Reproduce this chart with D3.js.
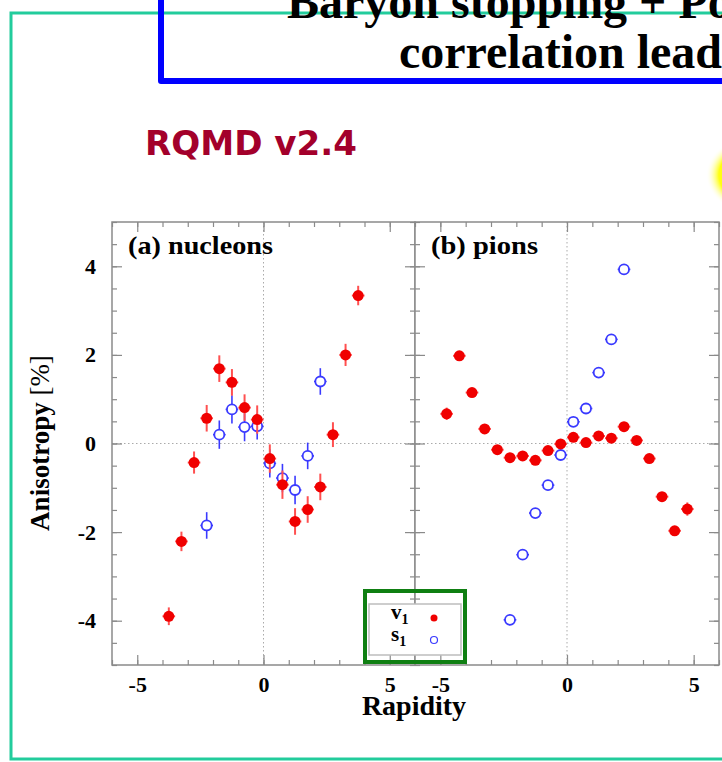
<!DOCTYPE html>
<html>
<head>
<meta charset="utf-8">
<script src="https://cdn.jsdelivr.net/npm/d3@7"></script>
<style>
	body { margin: 0; background: #fff; }
	svg { display: block; }
</style>
</head>
<body>
<script>
// rapidity bins and anisotropy values (percent)
const nucV1X = [-3.75, -3.25, -2.75, -2.25, -1.75, -1.25, -0.75, -0.25, 0.25, 0.75, 1.25, 1.75, 2.25, 2.75, 3.25, 3.75];
const nucV1 = [-3.9, -2.21, -0.43, 0.57, 1.69, 1.38, 0.81, 0.54, -0.34, -0.93, -1.76, -1.49, -0.98, 0.2, 2.0, 3.34];
const nucV1Err = [0.2, 0.22, 0.25, 0.3, 0.3, 0.3, 0.3, 0.32, 0.32, 0.32, 0.3, 0.3, 0.3, 0.28, 0.25, 0.22];

const nucS1X = [-2.25, -1.75, -1.25, -0.75, -0.25, 0.25, 0.75, 1.25, 1.75, 2.25];
const nucS1 = [-1.85, 0.2, 0.77, 0.37, 0.39, -0.45, -0.78, -1.05, -0.28, 1.4];
const nucS1Err = [0.3, 0.32, 0.32, 0.32, 0.3, 0.32, 0.32, 0.32, 0.3, 0.3];

const pionV1X = [-4.75, -4.25, -3.75, -3.25, -2.75, -2.25, -1.75, -1.25, -0.75, -0.25, 0.25, 0.75, 1.25, 1.75, 2.25, 2.75, 3.25, 3.75, 4.25, 4.75];
const pionV1 = [0.67, 1.98, 1.15, 0.33, -0.14, -0.32, -0.28, -0.38, -0.16, -0.01, 0.14, 0.02, 0.17, 0.12, 0.38, 0.07, -0.34, -1.2, -1.97, -1.48];
const pionV1Err = [0.14, 0.1, 0.08, 0.07, 0.06, 0.06, 0.06, 0.06, 0.06, 0.06, 0.06, 0.06, 0.06, 0.06, 0.06, 0.06, 0.07, 0.08, 0.1, 0.15];

const pionS1X = [-2.25, -1.75, -1.25, -0.75, -0.25, 0.25, 0.75, 1.25, 1.75, 2.25];
const pionS1 = [-3.98, -2.51, -1.57, -0.94, -0.26, 0.49, 0.79, 1.6, 2.35, 3.93];
const pionS1Err = [0.05, 0.05, 0.05, 0.05, 0.05, 0.05, 0.05, 0.05, 0.05, 0.05];

const xTickLabels = [-5, 0, 5];
const yTickLabels = [-4, -2, 0, 2, 4];
const panelTitles = ["(a) nucleons", "(b) pions"];

const w = 722;
const h = 762;
const serif = "'Liberation Serif', 'Times New Roman', serif";
const frameCol = "#8a8a8a";
const red = "#f00000";
const blue = "#3a3aff";

const svg = d3.select("body").append("svg").attr("width", w).attr("height", h);

// slide decoration: teal frame, blue title box, yellow glow
const defs = svg.append("defs");
const glow = defs.append("radialGradient").attr("id", "glow");
glow.append("stop").attr("offset", "0%").attr("stop-color", "#ffff00");
glow.append("stop").attr("offset", "72%").attr("stop-color", "#ffff10");
glow.append("stop").attr("offset", "100%").attr("stop-color", "#ffffff").attr("stop-opacity", 0);
svg.append("ellipse").attr("cx", 752).attr("cy", 175).attr("rx", 46).attr("ry", 38).attr("fill", "url(#glow)");

svg.append("rect").attr("x", 11).attr("y", 13).attr("width", 800).attr("height", 746)
	.attr("fill", "none").attr("stroke", "#22cc9c").attr("stroke-width", 3);

svg.append("path").attr("d", "M161,-10 V81 H760")
	.attr("fill", "none").attr("stroke", "#0000ff").attr("stroke-width", 6).attr("stroke-linejoin", "round");

svg.append("text").text("Baryon stopping + Positive space-momentum")
	.attr("x", 287).attr("y", 18).attr("font-family", serif).attr("font-weight", "bold").attr("font-size", 48);
svg.append("text").text("correlation leads to")
	.attr("x", 399).attr("y", 68).attr("font-family", serif).attr("font-weight", "bold").attr("font-size", 48);

svg.append("text").text("RQMD v2.4")
	.attr("x", 145).attr("y", 155).attr("font-family", "'DejaVu Sans', sans-serif").attr("font-weight", "bold")
	.attr("font-size", 34).attr("fill", "#a3002b").attr("textLength", 212).attr("lengthAdjust", "spacingAndGlyphs");

// scales for the two panels sharing the y axis
const yScale = d3.scaleLinear().domain([-5, 5]).range([665, 222]);
const panels = [
	{ x: d3.scaleLinear().domain([-6, 6]).range([112, 415]), title: panelTitles[0], tw: 145,
		v1x: nucV1X, v1: nucV1, v1e: nucV1Err, s1x: nucS1X, s1: nucS1, s1e: nucS1Err },
	{ x: d3.scaleLinear().domain([-6, 6]).range([415, 719]), title: panelTitles[1], tw: 107,
		v1x: pionV1X, v1: pionV1, v1e: pionV1Err, s1x: pionS1X, s1: pionS1, s1e: pionS1Err }
];

const xMinor = d3.range(-6, 6.01, 1);
const yMinor = d3.range(-5, 5.01, 0.5);

panels.forEach((p, pi) => {
	const xs = p.x;
	const [x0, x1] = xs.range();
	const g = svg.append("g");

	g.append("rect").attr("x", x0).attr("y", 222).attr("width", x1 - x0).attr("height", 443).attr("fill", "#fff");

	// dotted zero lines
	g.append("line").attr("x1", x0).attr("x2", x1).attr("y1", yScale(0)).attr("y2", yScale(0))
		.attr("stroke", "#aaa").attr("stroke-dasharray", "1.5,2.5");
	g.append("line").attr("x1", xs(0)).attr("x2", xs(0)).attr("y1", 222).attr("y2", 665)
		.attr("stroke", "#aaa").attr("stroke-dasharray", "1.5,2.5");

	// ticks pointing inwards on all four sides
	const axes = [
		g.append("g").attr("transform", "translate(0,665)").call(d3.axisBottom(xs).tickValues(xMinor).tickSize(-5).tickFormat("")),
		g.append("g").attr("transform", "translate(0,665)").call(d3.axisBottom(xs).tickValues(xTickLabels).tickSize(-10).tickPadding(11).tickFormat((d) => String(d))),
		g.append("g").attr("transform", "translate(0,222)").call(d3.axisTop(xs).tickValues(xMinor).tickSize(-5).tickFormat("")),
		g.append("g").attr("transform", "translate(0,222)").call(d3.axisTop(xs).tickValues(xTickLabels).tickSize(-10).tickFormat("")),
		g.append("g").attr("transform", "translate(" + x0 + ",0)").call(d3.axisLeft(yScale).tickValues(yMinor).tickSize(-5).tickFormat("")),
		g.append("g").attr("transform", "translate(" + x0 + ",0)").call(d3.axisLeft(yScale).tickValues(yTickLabels).tickSize(-10).tickPadding(16).tickFormat((d) => (pi === 0 ? String(d) : ""))),
		g.append("g").attr("transform", "translate(" + x1 + ",0)").call(d3.axisRight(yScale).tickValues(yMinor).tickSize(-5).tickFormat("")),
		g.append("g").attr("transform", "translate(" + x1 + ",0)").call(d3.axisRight(yScale).tickValues(yTickLabels).tickSize(-10).tickFormat(""))
	];
	axes.forEach((a) => {
		a.select(".domain").remove();
		a.selectAll("line").attr("stroke", frameCol).attr("stroke-width", 1.2);
		a.selectAll("text").attr("font-family", serif).attr("font-weight", "bold").attr("font-size", 22).attr("fill", "#000");
	});

	g.append("rect").attr("x", x0).attr("y", 222).attr("width", x1 - x0).attr("height", 443)
		.attr("fill", "none").attr("stroke", frameCol).attr("stroke-width", 1.5);

	g.append("text").text(p.title).attr("x", x0 + 16).attr("y", 254)
		.attr("font-family", serif).attr("font-weight", "bold").attr("font-size", 26)
		.attr("textLength", p.tw).attr("lengthAdjust", "spacingAndGlyphs");

	// s1 open circles with error bars
	const s1 = p.s1x.map((x, i) => ({ x: x, y: p.s1[i], e: p.s1e[i] }));
	const gs = g.append("g");
	gs.selectAll(".sy").data(s1).enter().append("line")
		.attr("x1", (d) => xs(d.x)).attr("x2", (d) => xs(d.x))
		.attr("y1", (d) => yScale(d.y + d.e)).attr("y2", (d) => yScale(d.y - d.e))
		.attr("stroke", blue).attr("stroke-width", 1.6);
	gs.selectAll(".sx").data(s1).enter().append("line")
		.attr("x1", (d) => xs(d.x - 0.25)).attr("x2", (d) => xs(d.x + 0.25))
		.attr("y1", (d) => yScale(d.y)).attr("y2", (d) => yScale(d.y))
		.attr("stroke", blue).attr("stroke-width", 1.6);
	gs.selectAll("circle").data(s1).enter().append("circle")
		.attr("cx", (d) => xs(d.x)).attr("cy", (d) => yScale(d.y)).attr("r", 5)
		.attr("fill", "#fff").attr("stroke", blue).attr("stroke-width", 1.8);

	// v1 filled circles with error bars
	const v1 = p.v1x.map((x, i) => ({ x: x, y: p.v1[i], e: p.v1e[i] }));
	const gv = g.append("g");
	gv.selectAll(".vy").data(v1).enter().append("line")
		.attr("x1", (d) => xs(d.x)).attr("x2", (d) => xs(d.x))
		.attr("y1", (d) => yScale(d.y + d.e)).attr("y2", (d) => yScale(d.y - d.e))
		.attr("stroke", "#ff5050").attr("stroke-width", 2);
	gv.selectAll(".vx").data(v1).enter().append("line")
		.attr("x1", (d) => xs(d.x - 0.25)).attr("x2", (d) => xs(d.x + 0.25))
		.attr("y1", (d) => yScale(d.y)).attr("y2", (d) => yScale(d.y))
		.attr("stroke", "#ff5050").attr("stroke-width", 2);
	gv.selectAll("circle").data(v1).enter().append("circle")
		.attr("cx", (d) => xs(d.x)).attr("cy", (d) => yScale(d.y)).attr("r", 5.5)
		.attr("fill", red);
});

// axis titles
svg.append("text").text("Rapidity").attr("x", 414).attr("y", 715).attr("text-anchor", "middle")
	.attr("font-family", serif).attr("font-weight", "bold").attr("font-size", 28);

const yl = svg.append("text").attr("transform", "translate(49,443) rotate(-90)").attr("text-anchor", "middle")
	.attr("font-family", serif).attr("font-size", 27);
yl.append("tspan").text("Anisotropy ").attr("font-weight", "bold");
yl.append("tspan").text("[%]");

// legend
svg.append("rect").attr("x", 369).attr("y", 604).attr("width", 92).attr("height", 51)
	.attr("fill", "#fff").attr("stroke", "#bdbdbd").attr("stroke-width", 1.5);
const legend = [{ n: "v", c: "fill" }, { n: "s", c: "open" }];
legend.forEach((d, i) => {
	const t = svg.append("text").attr("x", 391).attr("y", 619 + i * 22)
		.attr("font-family", serif).attr("font-weight", "bold").attr("font-size", 21);
	t.append("tspan").text(d.n);
	t.append("tspan").text("1").attr("font-size", 14).attr("dy", 5);
	svg.append("circle").attr("cx", 434).attr("cy", 618 + i * 22).attr("r", 3.5)
		.attr("fill", d.c === "fill" ? red : "#fff")
		.attr("stroke", d.c === "fill" ? "none" : blue).attr("stroke-width", 1.2);
});
svg.append("rect").attr("x", 365).attr("y", 591).attr("width", 100).attr("height", 71)
	.attr("fill", "none").attr("stroke", "#0f7f12").attr("stroke-width", 4);
</script>
</body>
</html>
